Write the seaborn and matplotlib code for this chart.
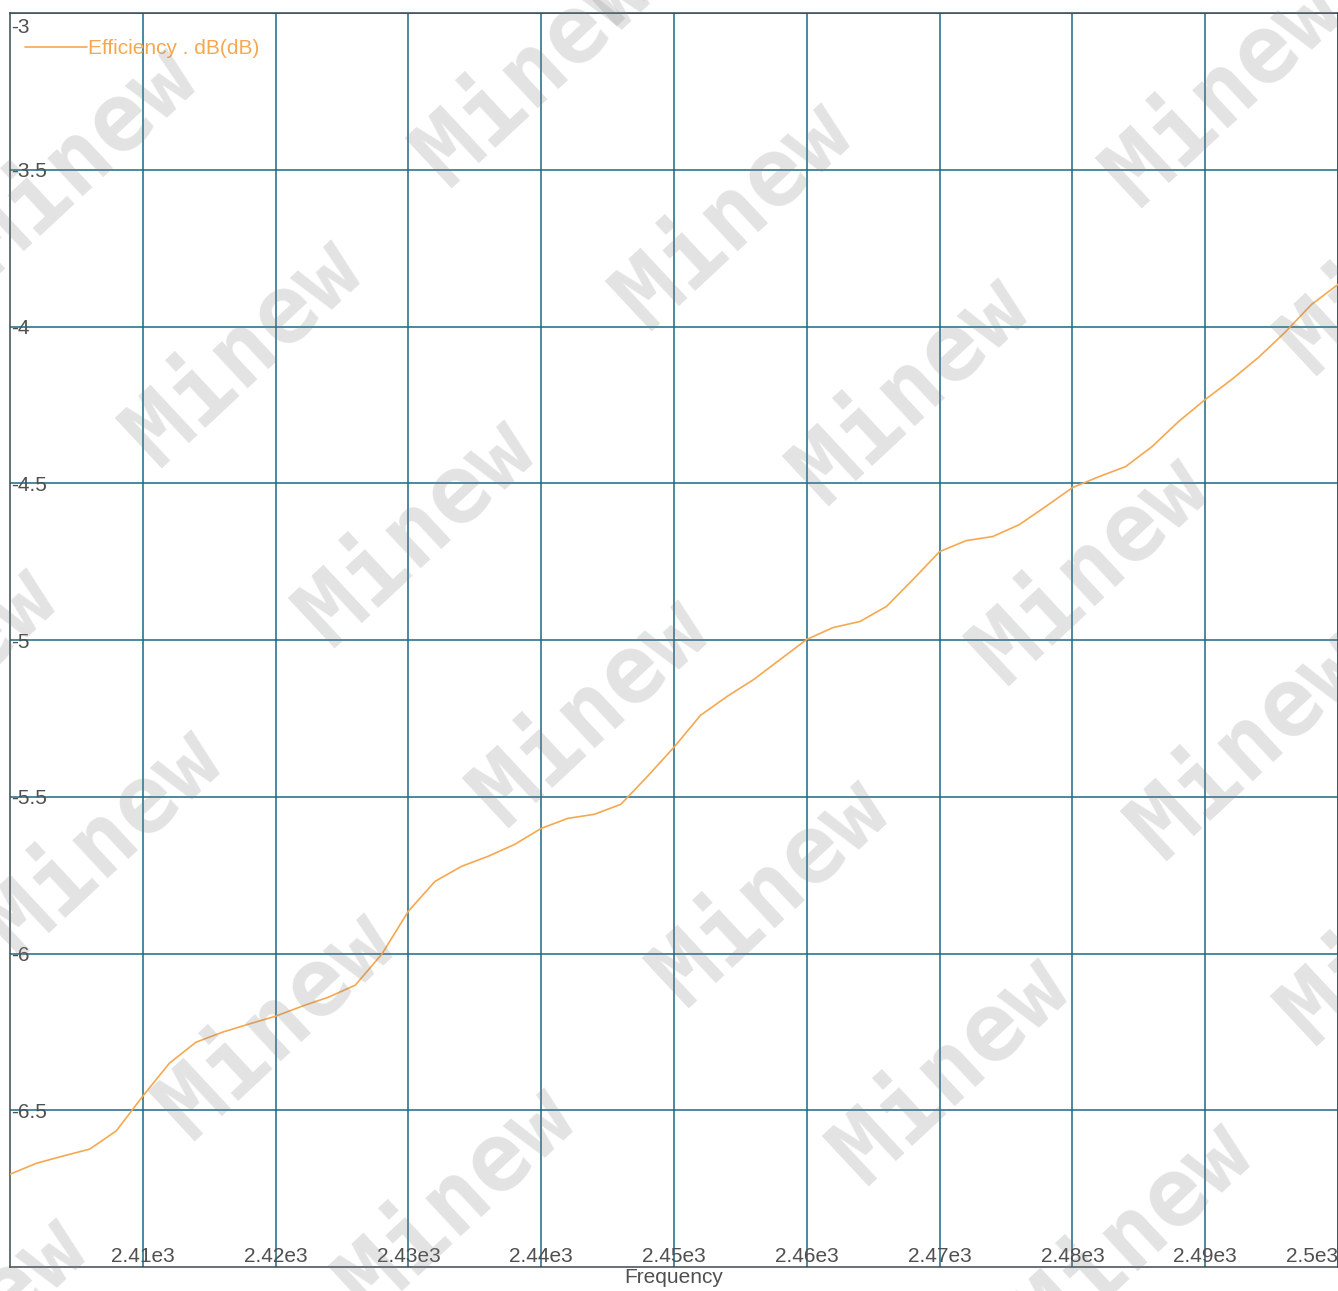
import matplotlib
matplotlib.use("Agg")
import matplotlib.pyplot as plt
import matplotlib.transforms as mtransforms
import seaborn as sns
import pandas as pd

# ---- data ----
freq = [2400 + 2 * i for i in range(51)]
efficiency_db = [
    -6.704, -6.669, -6.646, -6.624, -6.566, -6.455, -6.350, -6.283, -6.251, -6.225,
    -6.200, -6.168, -6.139, -6.101, -6.002, -5.865, -5.770, -5.722, -5.690, -5.652,
    -5.601, -5.569, -5.556, -5.524, -5.435, -5.342, -5.240, -5.180, -5.126, -5.062,
    -4.998, -4.960, -4.941, -4.893, -4.807, -4.718, -4.683, -4.670, -4.632, -4.574,
    -4.514, -4.479, -4.447, -4.383, -4.303, -4.233, -4.169, -4.099, -4.019, -3.930,
    -3.866,
]
series_name = "Efficiency . dB(dB)"
x_ticks = [2410, 2420, 2430, 2440, 2450, 2460, 2470, 2480, 2490, 2500]
y_ticks = [-6.5, -6, -5.5, -5, -4.5, -4, -3.5, -3]
x_label = "Frequency"
watermark = "Minew"
wm_centers = [(80, 160), (245, 352), (418, 532), (592, 712), (772, 892), (952, 1070),
              (1135, 1235), (535, 72), (735, 215), (912, 390), (1092, 570), (1250, 745),
              (1225, 92), (105, 842), (278, 1025), (458, 1200), (-60, 680), (-30, 1330),
              (1400, 260), (1400, 930), (700, -90)]

df = pd.DataFrame({"Frequency": freq, "Efficiency": efficiency_db, "series": series_name})

sns.set_style("white")
plt.rcParams["font.family"] = ["Liberation Sans", "DejaVu Sans"]

W, H = 1338, 1291
fig = plt.figure(figsize=(W / 100, H / 100), dpi=100)
ax = fig.add_axes([10 / W, 24 / H, 1328 / W, 1254 / H])

line_color = "#f5a850"
sns.lineplot(data=df, x="Frequency", y="Efficiency", hue="series",
             palette=[line_color], linewidth=1.2, ax=ax, zorder=3)

ax.set_xlim(2400, 2500)
ax.set_ylim(-7, -3)
ax.set_xticks(x_ticks)
ax.set_yticks(y_ticks)
ax.set_xticklabels([f"{v / 1000:g}e3" for v in x_ticks])
ax.set_yticklabels([f"{v:g}" for v in y_ticks])

grid_color = "#1d6886"
ax.grid(True, color=grid_color, linewidth=1.1, zorder=1)
ax.set_axisbelow(True)
for s in ax.spines.values():
    s.set_visible(True)
    s.set_color("#3a4a50")
    s.set_linewidth(1.1)

label_color = "#505050"
ax.tick_params(axis="both", length=0, labelsize=15, labelcolor=label_color)
ax.tick_params(axis="y", pad=-1)
ax.tick_params(axis="x", pad=-1)
for t in ax.get_yticklabels():
    t.set_horizontalalignment("left")
top_lbl = ax.get_yticklabels()[-1]
top_lbl.set_verticalalignment("top")
top_lbl.set_transform(top_lbl.get_transform() +
                      mtransforms.ScaledTranslation(0, -5 / 100, fig.dpi_scale_trans))
for t in ax.get_xticklabels():
    t.set_verticalalignment("bottom")
ax.get_xticklabels()[-1].set_horizontalalignment("right")

ax.set_xlabel(x_label, fontsize=15, color=label_color, labelpad=1)
ax.set_ylabel("")

leg = ax.legend(loc="upper left", bbox_to_anchor=(0.0, 0.991), frameon=False,
                fontsize=15, handlelength=3.0, handletextpad=0.05,
                borderaxespad=0.3, labelcolor="linecolor")
for h in leg.get_lines():
    h.set_linewidth(1.2)

# watermark
for cx, cy in wm_centers:
    fig.text(cx / W, 1 - cy / H, watermark, rotation=43, rotation_mode="anchor",
             ha="center", va="center", fontsize=68, fontweight="bold",
             family="DejaVu Sans Mono", color="#808080", alpha=0.22, zorder=10)

fig.savefig("out.png", dpi=100, facecolor="white")
